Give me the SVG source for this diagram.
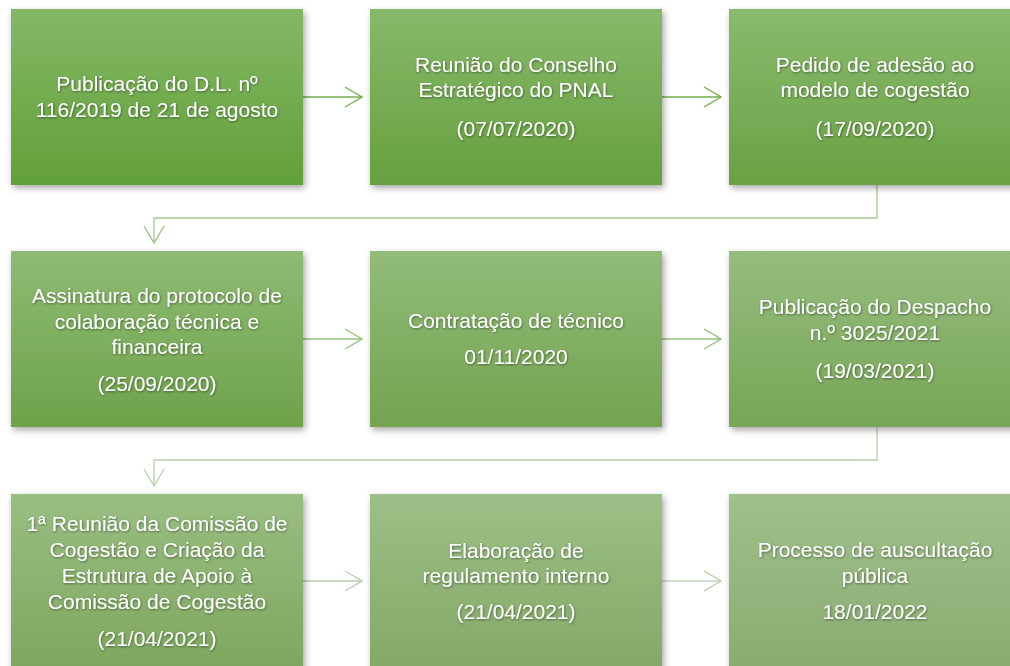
<svg xmlns="http://www.w3.org/2000/svg" width="1010" height="666" viewBox="0 0 1010 666">
<defs>
<style>
.t{font-family:"Liberation Sans","Open Sans",sans-serif;font-size:21px;fill:#fff;text-anchor:middle;filter:url(#ts)}
.c{fill:none;stroke-width:1.3}
</style>
<filter id="sh" x="-10%" y="-10%" width="125%" height="130%"><feDropShadow dx="2" dy="3" stdDeviation="3.5" flood-color="#000" flood-opacity="0.35"/></filter>
<filter id="ts" x="-5%" y="-20%" width="110%" height="150%"><feDropShadow dx="0.7" dy="1" stdDeviation="0.8" flood-color="#000" flood-opacity="0.45"/></filter>
<linearGradient id="g1" x1="0" y1="0" x2="0" y2="1"><stop offset="0" stop-color="#84b866"/><stop offset="1" stop-color="#62a03a"/></linearGradient>
<linearGradient id="g2" x1="0" y1="0" x2="0" y2="1"><stop offset="0" stop-color="#87b96a"/><stop offset="1" stop-color="#66a03f"/></linearGradient>
<linearGradient id="g3" x1="0" y1="0" x2="0" y2="1"><stop offset="0" stop-color="#8aba6e"/><stop offset="1" stop-color="#6aa144"/></linearGradient>
<linearGradient id="g4" x1="0" y1="0" x2="0" y2="1"><stop offset="0" stop-color="#8ebb74"/><stop offset="1" stop-color="#6fa24a"/></linearGradient>
<linearGradient id="g5" x1="0" y1="0" x2="0" y2="1"><stop offset="0" stop-color="#92bc79"/><stop offset="1" stop-color="#73a350"/></linearGradient>
<linearGradient id="g6" x1="0" y1="0" x2="0" y2="1"><stop offset="0" stop-color="#95bd7e"/><stop offset="1" stop-color="#78a556"/></linearGradient>
<linearGradient id="g7" x1="0" y1="0" x2="0" y2="1"><stop offset="0" stop-color="#99be82"/><stop offset="1" stop-color="#7ea75e"/></linearGradient>
<linearGradient id="g8" x1="0" y1="0" x2="0" y2="1"><stop offset="0" stop-color="#9cbf87"/><stop offset="1" stop-color="#84a966"/></linearGradient>
<linearGradient id="g9" x1="0" y1="0" x2="0" y2="1"><stop offset="0" stop-color="#a0c08c"/><stop offset="1" stop-color="#8aab70"/></linearGradient>
<marker id="a1" viewBox="0 0 19 22" refX="18" refY="11" markerWidth="19" markerHeight="22" markerUnits="userSpaceOnUse" orient="auto"><path d="M1,1 L18,11 L1,21" fill="none" stroke="#72ae4a" stroke-width="1.3"/></marker>
<marker id="a2" viewBox="0 0 19 22" refX="18" refY="11" markerWidth="19" markerHeight="22" markerUnits="userSpaceOnUse" orient="auto"><path d="M1,1 L18,11 L1,21" fill="none" stroke="#93c07a" stroke-width="1.3"/></marker>
<marker id="a3" viewBox="0 0 19 22" refX="18" refY="11" markerWidth="19" markerHeight="22" markerUnits="userSpaceOnUse" orient="auto"><path d="M1,1 L18,11 L1,21" fill="none" stroke="#b7cfa8" stroke-width="1.3"/></marker>
</defs>
<rect width="1010" height="666" fill="#fff"/>
<g id="connectors">
<path class="c" d="M303,97 H362" stroke="#72ae4a" marker-end="url(#a1)"/>
<path class="c" d="M662,97 H721" stroke="#72ae4a" marker-end="url(#a1)"/>
<path class="c" d="M877,185 V218 H154 V243" stroke="#a4c98e" marker-end="url(#a2)"/>
<path class="c" d="M303,339 H362" stroke="#93c07a" marker-end="url(#a2)"/>
<path class="c" d="M662,339 H721" stroke="#93c07a" marker-end="url(#a2)"/>
<path class="c" d="M877,427 V460 H154 V486" stroke="#b7cfa8" marker-end="url(#a3)"/>
<path class="c" d="M303,581 H362" stroke="#b7cfa8" marker-end="url(#a3)"/>
<path class="c" d="M662,581 H721" stroke="#c6d9ba" marker-end="url(#a3)"/>
</g>
<g id="n1"><rect x="11" y="9" width="292" height="176" fill="url(#g1)" filter="url(#sh)"/>
<text class="t" x="157" y="91">Publicação do D.L. nº</text><text class="t" x="157" y="117">116/2019 de 21 de agosto</text></g>
<g id="n2"><rect x="370" y="9" width="292" height="176" fill="url(#g2)" filter="url(#sh)"/>
<text class="t" x="516" y="72">Reunião do Conselho</text><text class="t" x="516" y="97">Estratégico do PNAL</text><text class="t" x="516" y="136">(07/07/2020)</text></g>
<g id="n3"><rect x="729" y="9" width="292" height="176" fill="url(#g3)" filter="url(#sh)"/>
<text class="t" x="875" y="72">Pedido de adesão ao</text><text class="t" x="875" y="97">modelo de cogestão</text><text class="t" x="875" y="136">(17/09/2020)</text></g>
<g id="n4"><rect x="11" y="251" width="292" height="176" fill="url(#g4)" filter="url(#sh)"/>
<text class="t" x="157" y="303">Assinatura do protocolo de</text><text class="t" x="157" y="329">colaboração técnica e</text><text class="t" x="157" y="354">financeira</text><text class="t" x="157" y="391">(25/09/2020)</text></g>
<g id="n5"><rect x="370" y="251" width="292" height="176" fill="url(#g5)" filter="url(#sh)"/>
<text class="t" x="516" y="328">Contratação de técnico</text><text class="t" x="516" y="364">01/11/2020</text></g>
<g id="n6"><rect x="729" y="251" width="292" height="176" fill="url(#g6)" filter="url(#sh)"/>
<text class="t" x="875" y="314">Publicação do Despacho</text><text class="t" x="875" y="340">n.º 3025/2021</text><text class="t" x="875" y="378">(19/03/2021)</text></g>
<g id="n7"><rect x="11" y="494" width="292" height="176" fill="url(#g7)" filter="url(#sh)"/>
<text class="t" x="157" y="531">1ª Reunião da Comissão de</text><text class="t" x="157" y="557">Cogestão e Criação da</text><text class="t" x="157" y="583">Estrutura de Apoio à</text><text class="t" x="157" y="609">Comissão de Cogestão</text><text class="t" x="157" y="646">(21/04/2021)</text></g>
<g id="n8"><rect x="370" y="494" width="292" height="176" fill="url(#g8)" filter="url(#sh)"/>
<text class="t" x="516" y="558">Elaboração de</text><text class="t" x="516" y="583">regulamento interno</text><text class="t" x="516" y="619">(21/04/2021)</text></g>
<g id="n9"><rect x="729" y="494" width="292" height="176" fill="url(#g9)" filter="url(#sh)"/>
<text class="t" x="875" y="557">Processo de auscultação</text><text class="t" x="875" y="583">pública</text><text class="t" x="875" y="619">18/01/2022</text></g>
</svg>
